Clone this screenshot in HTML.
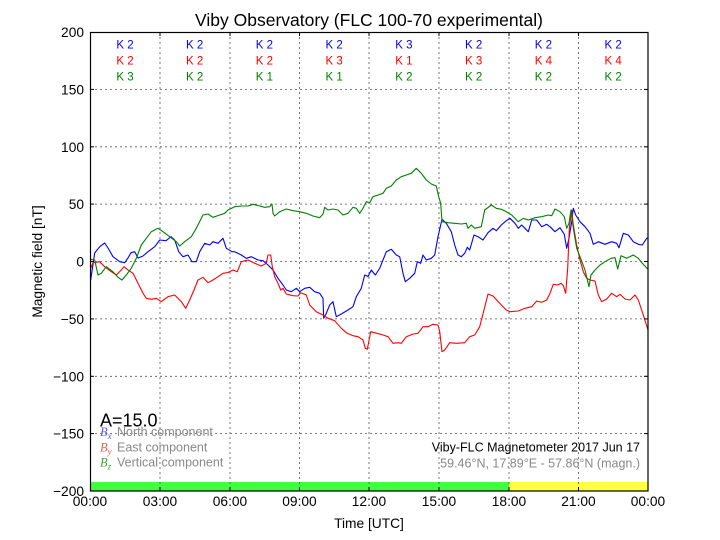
<!DOCTYPE html>
<html><head><meta charset="utf-8"><style>
html,body{margin:0;padding:0;background:#fff;}
svg{display:block;font-family:"Liberation Sans",Arial,sans-serif;}
</style></head><body>
<svg width="720" height="540" viewBox="0 0 720 540" xmlns="http://www.w3.org/2000/svg">
<rect width="720" height="540" fill="#fff"/>
<!-- color bar -->
<rect x="90" y="482" width="419" height="9" fill="#40ff40"/>
<rect x="509" y="482" width="139" height="9" fill="#ffff40"/>
<!-- grid -->
<g stroke="#555" stroke-width="0.8" stroke-dasharray="2,3" fill="none">
<line x1="160" y1="32" x2="160" y2="491"/>
<line x1="230" y1="32" x2="230" y2="491"/>
<line x1="299.5" y1="32" x2="299.5" y2="491"/>
<line x1="369" y1="32" x2="369" y2="491"/>
<line x1="439" y1="32" x2="439" y2="491"/>
<line x1="509" y1="32" x2="509" y2="491"/>
<line x1="578.5" y1="32" x2="578.5" y2="491"/>
<line x1="90" y1="89.4" x2="648" y2="89.4"/>
<line x1="90" y1="146.8" x2="648" y2="146.8"/>
<line x1="90" y1="204.1" x2="648" y2="204.1"/>
<line x1="90" y1="261.5" x2="648" y2="261.5"/>
<line x1="90" y1="318.9" x2="648" y2="318.9"/>
<line x1="90" y1="376.3" x2="648" y2="376.3"/>
<line x1="90" y1="433.6" x2="648" y2="433.6"/>
</g>
<!-- data -->
<g fill="none" stroke-width="1.1" stroke-linejoin="round">
<polyline stroke="#0000ff" points="90.7,280 94.7,253 99.7,246.7 104.7,243 108,248 113,256.7 119.7,261.7 124.7,262.7 128,258 131,252.7 134.7,251.7 138,258 143,256 148,251.7 154.7,246.7 159.7,240 166,240.7 171,236.7 174.7,240 178.7,251.7 183,256.7 188,255 192,261.7 196.3,261.7 199.7,251.7 204.7,243.3 209.7,245 213,241.7 218,243.3 223,238.3 226.3,248.3 232,251.7 234.7,251.7 241.3,255 246.3,258.3 251.3,256.7 258,260 263,260.7 268,265 273,270 278,278.3 283,285 286.3,290 291.3,291.7 296.3,288.3 299.7,291.7 304.7,288.3 309.7,287.3 314.7,291.7 319.7,293.3 323,298.3 323.7,318.3 326.3,313.3 329.7,305 333,301.7 336.3,316.7 341.3,314 348,310 353,306.7 356.3,296.7 361.3,288.3 364.7,275 367.3,276 368,276.7 371.3,270 375.3,275 379.7,268.3 383,260 386.3,251.7 391.3,249.3 396.3,255 399.7,256.7 403,273.3 405.3,281.7 409.7,278.3 414.7,273.3 417.3,261.7 420.7,263.3 423,255 426.3,260 431.3,258.3 434.7,255 438,236.7 442,219.3 446.3,223.3 451.3,231.7 454.7,245 458,255 461.3,256.7 464.7,253.3 467.3,247.3 469.7,250 474,235 478,236.7 483,240 488,232.7 493,228.3 496.3,230.7 501.3,225 506.3,220.7 510,218.3 515,223.3 518.3,228.3 521.7,225 525,228.3 528.3,231.7 531.7,220 536.7,220 541.7,226.7 546.7,224.3 550,226.7 555,231.7 560,227.7 564.3,234.3 566.7,248.3 569,238.3 571.7,221.7 573.3,208.3 575.7,215 580,221.7 585,226.7 590,233.3 593.3,244.3 598.3,241.7 605,244.3 611.7,241.7 616.7,243.3 619,247.7 623.3,233.3 628.3,235 633.3,241.7 638.3,244.3 642.3,245 646.7,238.3 648,237.7"/>
<polyline stroke="#ff0000" points="90.7,268.3 93,262.7 99.7,261.7 104.7,266.7 111.3,271.7 116.3,275 121.3,270 124,266.7 128,270 133,273.3 138,283.3 143,293.3 146.3,298.3 151.3,299.3 156.3,298.3 161.3,301.7 168,296.7 174.7,295 181.3,301.7 185.7,308.3 189.7,300 194,290 198,280 203,277.3 208,282.7 213,280 218,276.7 223,273.3 228,272.5 233,270 237.3,271.7 241.3,261.7 248,260 254.7,263.3 261.3,266 266.3,263.3 268,255 270.7,255 272.3,266.7 274.7,276.7 278,283.3 280.7,290 283,288.3 286.3,294 293,295.7 298,296 300.7,292.7 306.3,295 309.7,305 316.3,311.7 323,315 328,318.3 334.7,320.7 341.3,328.3 346.3,332.7 353,335.7 358,336.7 363,340 365.3,348.3 367.3,349.3 370.7,331.7 374.7,332.7 383,335 388,336.7 393,343.3 398,342.7 401.3,343.3 406.3,336.7 413,334 418,333.3 423,326.7 428,326.7 433,324.3 438,325 439.7,331.7 442,351.7 444.7,350 449.7,342.7 456.3,343.3 464.7,342.7 469.7,336.7 474.7,335 479.7,326.7 484,310 488,294 493,296 499.7,303.3 506.3,310 510,311.7 518.3,311 525,308.3 531.7,306.7 536.7,301 541.7,302.3 546.7,300 550,293.3 553.3,284.3 557.7,285 561,283.3 563.3,285.7 565.7,293.3 567.7,268.3 569.3,228.3 571.7,210 573.3,225 576.7,245 580,260 583.3,271.7 586.7,278.3 590,280 595,281 598.3,295 601.7,301.7 606.7,299 611.7,293.3 616.7,296.7 620,294.3 625,299 630,300 635,295 638.3,300 643.3,315 648,330"/>
<polyline stroke="#008000" points="90.7,259.3 94.7,260 98,275 101.3,273.3 106.3,266.7 113,271.7 118,277.3 122,280 126.3,275 131.3,268.3 136.3,258.3 141.3,245 146.3,238.3 151.3,231.7 158,228.3 163,231.7 169.7,236.7 176.3,241.7 179.7,246 184.7,241.7 191.3,236.7 196.3,228.3 203,215 208,214 213,217.3 219.7,215 224.7,213.3 228,210 234.7,206.7 241.3,206 248,206 253,204.3 259.7,206 264.7,207.3 269.7,206.7 272,204 273,213.3 274.7,216 279.7,211.7 286.3,209 293,210.7 299.7,211.7 306.3,213.3 313,216 319.7,217.7 323,214 324.7,207.3 328,210 333,209 338,210 343,215 348,213.3 353,207.3 356.3,208.3 359.7,213.3 363,208.3 366.3,201.7 369.7,202.7 373,196.7 378,195 383,193.3 386.3,188.3 391.3,186 396.3,180 401.3,176.7 406.3,175 411.3,173.3 416.3,168.3 421.3,173.3 426.3,180 431.3,184 436.3,186 438.7,196.7 440.7,203.3 442,221.7 448,222.7 454.7,223.3 461.3,224 466.3,223.3 468,228.3 471.3,225 474.7,228.3 481.3,226.7 484.7,210 491.3,205 496.3,208.3 501.3,209.3 505,211 511.7,215 518.3,221.7 523.3,218.3 528.3,220 535,217.7 541.7,216.7 548.3,215 551.7,215.7 555,209 560,211.7 564.3,216.7 566.7,228.3 569,223.3 571,210 573.3,228.3 576.7,248.3 580,256.7 585,270 589,286.7 591,275 595,270 600,265 605,261.7 611,258.3 615,257.7 617.7,269 621,255.7 626.7,258.3 633.3,255 638.3,258.3 642.3,263.3 647.7,269"/>
</g>
<!-- axes frame -->
<rect x="90.5" y="32.5" width="557.5" height="458.5" fill="none" stroke="#000" stroke-width="1.2"/>
<!-- ticks -->
<g stroke="#000" stroke-width="1">
<line x1="90" y1="89.4" x2="94" y2="89.4"/><line x1="90" y1="146.8" x2="94" y2="146.8"/><line x1="90" y1="204.1" x2="94" y2="204.1"/><line x1="90" y1="261.5" x2="94" y2="261.5"/><line x1="90" y1="318.9" x2="94" y2="318.9"/><line x1="90" y1="376.3" x2="94" y2="376.3"/><line x1="90" y1="433.6" x2="94" y2="433.6"/>
<line x1="644" y1="89.4" x2="648" y2="89.4"/><line x1="644" y1="146.8" x2="648" y2="146.8"/><line x1="644" y1="204.1" x2="648" y2="204.1"/><line x1="644" y1="261.5" x2="648" y2="261.5"/><line x1="644" y1="318.9" x2="648" y2="318.9"/><line x1="644" y1="376.3" x2="648" y2="376.3"/><line x1="644" y1="433.6" x2="648" y2="433.6"/>
<line x1="160" y1="32" x2="160" y2="36"/><line x1="230" y1="32" x2="230" y2="36"/><line x1="299.5" y1="32" x2="299.5" y2="36"/><line x1="369" y1="32" x2="369" y2="36"/><line x1="439" y1="32" x2="439" y2="36"/><line x1="509" y1="32" x2="509" y2="36"/><line x1="578.5" y1="32" x2="578.5" y2="36"/>
<line x1="160" y1="487" x2="160" y2="491"/><line x1="230" y1="487" x2="230" y2="491"/><line x1="299.5" y1="487" x2="299.5" y2="491"/><line x1="369" y1="487" x2="369" y2="491"/><line x1="439" y1="487" x2="439" y2="491"/><line x1="509" y1="487" x2="509" y2="491"/><line x1="578.5" y1="487" x2="578.5" y2="491"/>
</g>
<!-- y tick labels -->
<g font-size="13.75" text-anchor="end" fill="#000">
<text x="84" y="37">200</text>
<text x="84" y="94.4">150</text>
<text x="84" y="151.8">100</text>
<text x="84" y="209.1">50</text>
<text x="84" y="266.5">0</text>
<text x="84" y="323.9">−50</text>
<text x="84" y="381.3">−100</text>
<text x="84" y="438.6">−150</text>
<text x="84" y="496">−200</text>
</g>
<!-- x tick labels -->
<g font-size="13.75" text-anchor="middle" fill="#000">
<text x="90" y="506">00:00</text>
<text x="160" y="506">03:00</text>
<text x="230" y="506">06:00</text>
<text x="299.5" y="506">09:00</text>
<text x="369" y="506">12:00</text>
<text x="439" y="506">15:00</text>
<text x="509" y="506">18:00</text>
<text x="578.5" y="506">21:00</text>
<text x="648" y="506">00:00</text>
</g>
<text x="369" y="528" font-size="13.75" text-anchor="middle">Time [UTC]</text>
<text transform="translate(42,261.5) rotate(-90)" font-size="13.75" text-anchor="middle">Magnetic field [nT]</text>
<text x="369" y="26" font-size="17.5" text-anchor="middle">Viby Observatory (FLC 100-70 experimental)</text>
<!-- K labels -->
<g font-size="11.5" text-anchor="middle">
<g fill="#0000ff">
<text x="125" y="48.5">K 2</text><text x="194.6" y="48.5">K 2</text><text x="264.4" y="48.5">K 2</text><text x="334.1" y="48.5">K 2</text><text x="403.9" y="48.5">K 3</text><text x="473.6" y="48.5">K 2</text><text x="543.4" y="48.5">K 2</text><text x="613.1" y="48.5">K 2</text>
</g>
<g fill="#ff0000">
<text x="125" y="64.5">K 2</text><text x="194.6" y="64.5">K 2</text><text x="264.4" y="64.5">K 2</text><text x="334.1" y="64.5">K 3</text><text x="403.9" y="64.5">K 1</text><text x="473.6" y="64.5">K 3</text><text x="543.4" y="64.5">K 4</text><text x="613.1" y="64.5">K 4</text>
</g>
<g fill="#008000">
<text x="125" y="80.5">K 3</text><text x="194.6" y="80.5">K 2</text><text x="264.4" y="80.5">K 1</text><text x="334.1" y="80.5">K 1</text><text x="403.9" y="80.5">K 2</text><text x="473.6" y="80.5">K 2</text><text x="543.4" y="80.5">K 2</text><text x="613.1" y="80.5">K 2</text>
</g>
</g>
<!-- A index -->
<text x="100" y="426.7" font-size="18">A=15.0</text>
<!-- legend -->
<g font-size="12.5">
<text x="100" y="436" font-family="'Liberation Serif',serif" font-style="italic" fill="#5555ff">B<tspan font-size="9" dy="3">x</tspan></text>
<text x="117" y="436" fill="#888">North component</text>
<text x="100" y="451.7" font-family="'Liberation Serif',serif" font-style="italic" fill="#ff5555">B<tspan font-size="9" dy="3">y</tspan></text>
<text x="117" y="451.7" fill="#888">East component</text>
<text x="100" y="466.7" font-family="'Liberation Serif',serif" font-style="italic" fill="#40a040">B<tspan font-size="9" dy="3">z</tspan></text>
<text x="117" y="466.7" fill="#888">Vertical component</text>
</g>
<g font-size="12.5" text-anchor="end">
<text x="640" y="451.7" fill="#000">Viby-FLC Magnetometer 2017 Jun 17</text>
<text x="640" y="467.7" fill="#888">59.46°N, 17.89°E - 57.86°N (magn.)</text>
</g>
</svg>
</body></html>
